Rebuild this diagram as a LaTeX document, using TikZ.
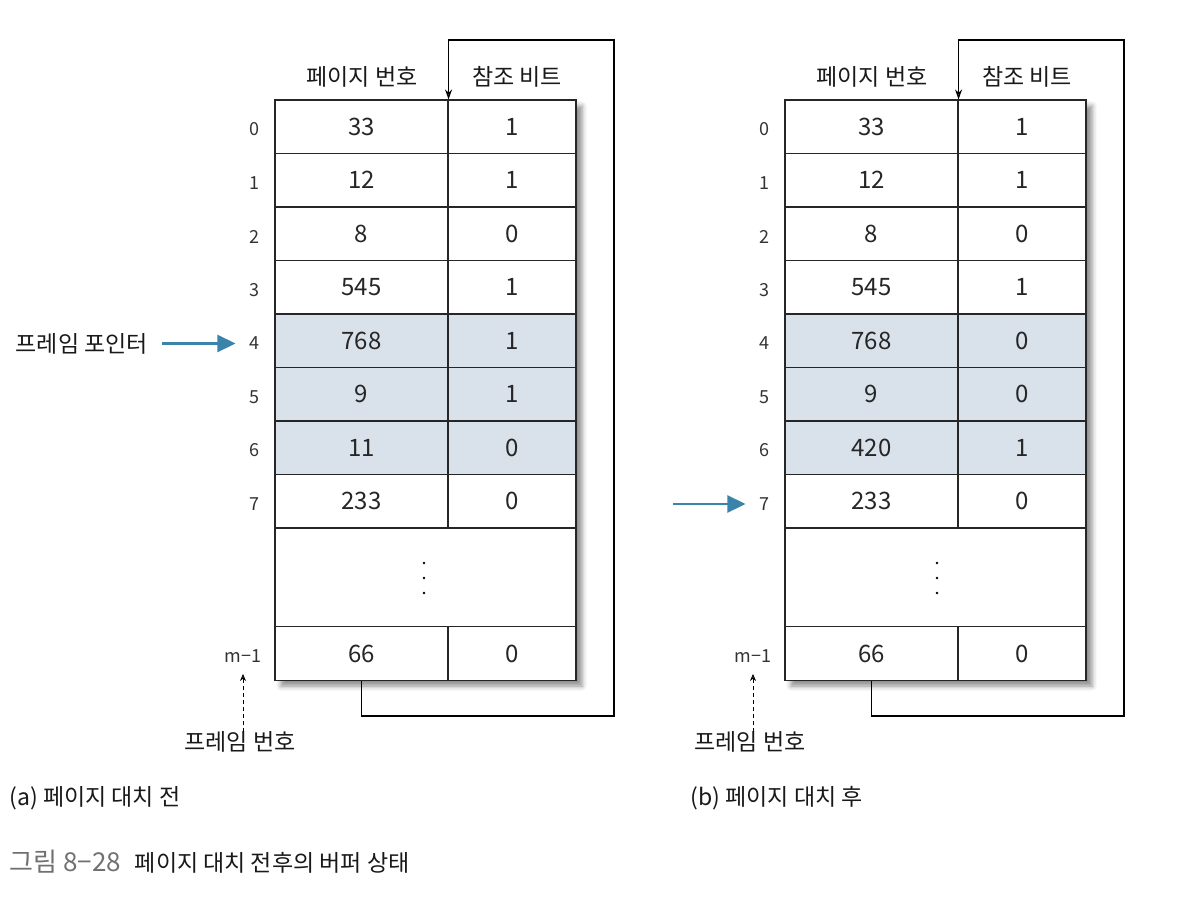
\documentclass[tikz,border=0pt]{standalone}
\usepackage{fontspec}
\setmainfont{Noto Sans CJK KR}
\usetikzlibrary{arrows.meta,shadows.blur,positioning}
\definecolor{rowblue}{RGB}{217,226,234}
\definecolor{ptrblue}{RGB}{58,131,170}
\definecolor{capgray}{RGB}{112,112,112}

\begin{document}
\begin{tikzpicture}[x=1pt,y=-1pt,>={Stealth[length=10pt,width=7pt]},
  cell/.style={draw=black!85,line width=1.1pt,fill=white,inner sep=0pt,
    minimum height=53.5pt,font=\fontsize{24}{28}\selectfont,text=black!85},
  hcell/.style={cell,fill=rowblue},
  pgcol/.style={minimum width=173pt},
  btcol/.style={minimum width=128pt},
  idx/.style={font=\fontsize{18}{21}\selectfont,text=black!80},
  lbl/.style={font=\fontsize{23}{27}\selectfont,text=black!90},
  ptr/.style={-{Triangle[length=18pt,width=17pt]},ptrblue,line width=2.4pt},
  dashptr/.style={dash pattern=on 4pt off 3pt,line width=0.7pt,
    -{Stealth[length=7pt,width=6pt]}},
  tabshadow/.style={blur shadow={shadow xshift=6pt,shadow yshift=-6pt,
    shadow blur radius=5pt,shadow opacity=45}}]
\useasboundingbox (0,0) rectangle (1182,896);

% (a) before replacement
\fill[white,tabshadow] (275,100) rectangle (576,680);
\foreach \i/\pg/\bt/\st in {0/33/1/cell,1/12/1/cell,2/8/0/cell,3/545/1/cell,
    4/768/1/hcell,5/9/1/hcell,6/11/0/hcell,7/233/0/cell}{
  \node[\st,pgcol] (a-p\i) at (361.5,126.75+53.5*\i) {\pg};
  \node[\st,btcol] (a-b\i) at (512,126.75+53.5*\i) {\bt};
  \node[idx] (a-n\i) at (254,129.5+53.5*\i) {\i};
}
\node[cell,minimum width=301pt,minimum height=99pt] (a-gap) at (425.5,577.5) {};
\foreach \d in {563,578,593} \fill (424,\d) circle[radius=1.3];
\node[cell,pgcol] (a-pm) at (361.5,653.5) {66};
\node[cell,btcol] (a-bm) at (512,653.5) {0};
\node[idx] (a-nm) at (243,656) {m−1};
\node[lbl] (a-hp) at (362,77) {페이지 번호};
\node[lbl] (a-hb) at (517,77) {참조 비트};
\coordinate (a-c1) at (614,716);
\coordinate (a-c2) at (614,40);
\draw[line width=1.1pt,->] (a-pm.south) |- (a-c1) -- (a-c2) -| (a-p0.north east);
\node[lbl] (a-fn) at (240,742) {프레임 번호};
\draw[dashptr] ([yshift=-4pt]a-fn.north -| a-nm) -- ([yshift=-8pt]a-nm.south);
\node[lbl,left=94pt of a-n4] (a-fp) {프레임 포인터};
\draw[ptr] ([xshift=11pt]a-fp.east) -- ([xshift=-10pt]a-n4.west);
\node[lbl,anchor=west] (a-cap) at (6,798) {(a) 페이지 대치 전};

% (b) after replacement
\begin{scope}[xshift=510]
\fill[white,tabshadow] (275,100) rectangle (576,680);
\foreach \i/\pg/\bt/\st in {0/33/1/cell,1/12/1/cell,2/8/0/cell,3/545/1/cell,
    4/768/0/hcell,5/9/0/hcell,6/420/1/hcell,7/233/0/cell}{
  \node[\st,pgcol] (b-p\i) at (361.5,126.75+53.5*\i) {\pg};
  \node[\st,btcol] (b-b\i) at (512,126.75+53.5*\i) {\bt};
  \node[idx] (b-n\i) at (254,129.5+53.5*\i) {\i};
}
\node[cell,minimum width=301pt,minimum height=99pt] (b-gap) at (425.5,577.5) {};
\foreach \d in {563,578,593} \fill (427,\d) circle[radius=1.3];
\node[cell,pgcol] (b-pm) at (361.5,653.5) {66};
\node[cell,btcol] (b-bm) at (512,653.5) {0};
\node[idx] (b-nm) at (243,656) {m−1};
\node[lbl] (b-hp) at (362,77) {페이지 번호};
\node[lbl] (b-hb) at (517,77) {참조 비트};
\coordinate (b-c1) at (614,716);
\coordinate (b-c2) at (614,40);
\draw[line width=1.1pt,->] (b-pm.south) |- (b-c1) -- (b-c2) -| (b-p0.north east);
\node[lbl] (b-fn) at (240,742) {프레임 번호};
\draw[dashptr] ([yshift=-4pt]b-fn.north -| b-nm) -- ([yshift=-8pt]b-nm.south);
\draw[ptr] ([xshift=-82pt]b-n7.west) -- ([xshift=-10pt]b-n7.west);
\node[lbl,anchor=west] (b-cap) at (177,798) {(b) 페이지 대치 후};
\end{scope}

\node[lbl,anchor=west] (fig) at (6,862)
  {\textcolor{capgray}{\fontsize{26}{30}\selectfont 그림 8−28}\hspace{14pt}페이지 대치 전후의 버퍼 상태};
\end{tikzpicture}
\end{document}
